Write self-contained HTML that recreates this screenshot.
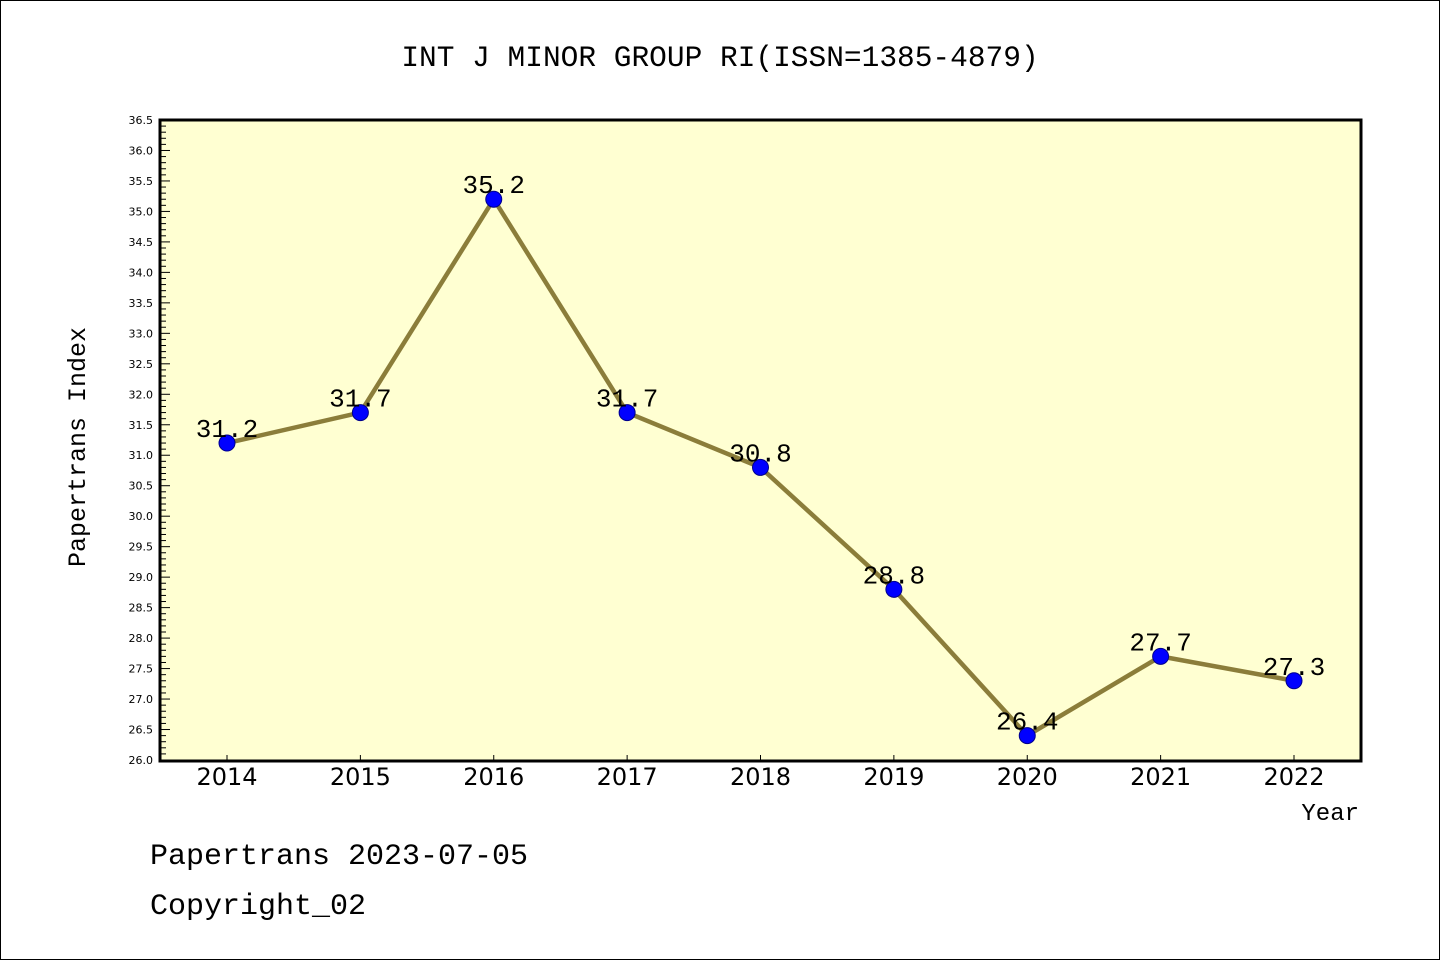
<!DOCTYPE html>
<html><head><meta charset="utf-8"><style>
body{margin:0;background:#fff}
svg{display:block}
.m{font-family:"Liberation Mono","Noto Sans CJK SC",monospace}
.s{font-family:"DejaVu Sans","Liberation Sans",sans-serif}
</style></head><body>
<svg id="c" width="1440" height="960">
<rect x="0.5" y="0.5" width="1439" height="959" fill="#fff" stroke="#000"/>
<text x="720" y="66" text-anchor="middle" class="m" font-size="29.5">INT J MINOR GROUP RI(ISSN=1385-4879)</text>
<rect x="160" y="120" width="1201" height="641" fill="#ffffd2"/>
<g id="ax"></g>
<g id="ln"></g>
<rect x="160" y="120" width="1201" height="641" fill="none" stroke="#000" stroke-width="3"/>
<text x="85" y="447" transform="rotate(-90 85 447)" text-anchor="middle" class="m" font-size="25">Papertrans Index</text>
<text x="1359" y="820" text-anchor="end" class="m" font-size="24">Year</text>
<text x="150" y="864" class="m" font-size="30">Papertrans 2023-07-05</text>
<text x="150" y="914" class="m" font-size="30">Copyright_02</text>
</svg>
<script>
const years=["2014","2015","2016","2017","2018","2019","2020","2021","2022"];
const values=[31.2,31.7,35.2,31.7,30.8,28.8,26.4,27.7,27.3];
const labels=["31.2","31.7","35.2","31.7","30.8","28.8","26.4","27.7","27.3"];
const yMin=26,yMax=36.5;
const NS="http://www.w3.org/2000/svg";
const X=i=>227+i*(1294-227)/(years.length-1);
const Y=v=>760-(v-yMin)*(640/(yMax-yMin));
function mk(t,a,p){const e=document.createElementNS(NS,t);for(const k in a)e.setAttribute(k,a[k]);p.appendChild(e);return e;}
const ax=document.getElementById('ax'),ln=document.getElementById('ln');
for(let k=0;k<=Math.round((yMax-yMin)*10);k++){
 const v=yMin+k/10,y=Y(v),maj=k%5===0;
 const t=mk('line',{x1:160,x2:maj?170:166,y1:y,y2:y,stroke:'#000','stroke-width':1},ax);
 
 
 if(maj){const l=mk('text',{x:153,y:y+4,'text-anchor':'end','font-size':11,class:'s'},ax);l.textContent=v.toFixed(1);
 
 }
}
years.forEach((yr,i)=>{
 const t=mk('line',{x1:X(i),x2:X(i),y1:761,y2:755,stroke:'#000'},ax);
 
 
 const l=mk('text',{x:X(i),y:785,'text-anchor':'middle','font-size':24,class:'s'},ax);l.textContent=yr;
 
 
});
const pl=mk('polyline',{points:values.map((v,i)=>X(i)+','+Y(v)).join(' '),fill:'none',stroke:'#8b7d3a','stroke-width':4.5},ln);


values.forEach((v,i)=>{
 const c=mk('circle',{cx:X(i),cy:Y(v),r:8,fill:'#0000ff',stroke:'#00008b','stroke-width':1},ln);
 
 
 const t=mk('text',{x:X(i),y:Y(v)-6,'text-anchor':'middle','font-size':26,class:'m'},ln);t.textContent=labels[i];
 
 
});
</script>
</body></html>
